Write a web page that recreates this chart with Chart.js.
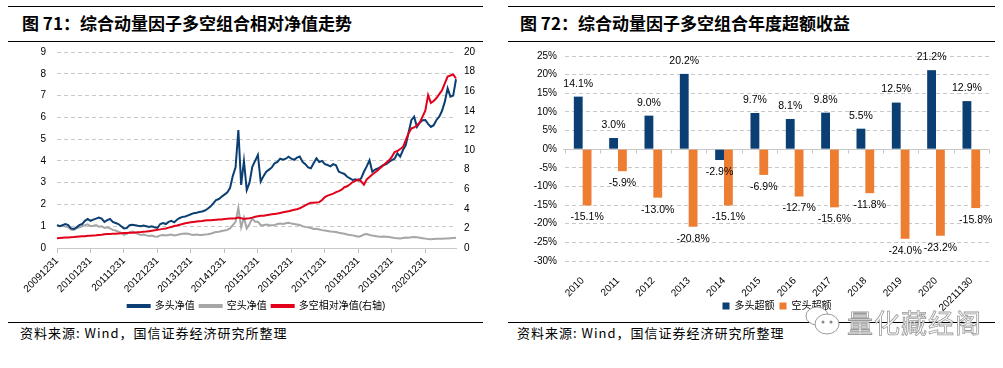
<!DOCTYPE html>
<html>
<head>
<meta charset="utf-8">
<script src="https://cdn.jsdelivr.net/npm/chart.js@4.4.0/dist/chart.umd.min.js"></script>
<style>
  body { margin: 0; background: #fff; width: 1003px; height: 368px; position: relative; overflow: hidden;
         font-family: "Noto Sans CJK SC", sans-serif; }
  .rule { position: absolute; height: 0; border-top: 1px solid #000; }
  .title { position: absolute; top: 12px; font-size: 17px; line-height: 22px; font-weight: bold; color: #000; white-space: nowrap; }
  .src { position: absolute; top: 325px; font-size: 13px; line-height: 16px; color: #000; white-space: nowrap; letter-spacing: 1px; }
  .box { position: absolute; }
  .wm { position: absolute; left: 803px; top: 302px; height: 38px; display: flex; align-items: center; }
  .wm span { font-size: 26px; color: #fff; -webkit-text-stroke: 0.8px #9a9a9a; letter-spacing: 1px; margin-left: 4px; }
</style>
</head>
<body>
<div class="rule" style="left:8px;width:475px;top:6px"></div>
<div class="rule" style="left:8px;width:475px;top:41px"></div>
<div class="rule" style="left:8px;width:475px;top:322px"></div>
<div class="title" style="left:22px">图 71：综合动量因子多空组合相对净值走势</div>
<div class="src" style="left:20px">资料来源: Wind，国信证券经济研究所整理</div>

<div class="rule" style="left:508px;width:487px;top:6px"></div>
<div class="rule" style="left:508px;width:487px;top:41px"></div>
<div class="rule" style="left:508px;width:487px;top:322px"></div>
<div class="title" style="left:520px">图 72：综合动量因子多空组合年度超额收益</div>
<div class="src" style="left:517px">资料来源: Wind，国信证券经济研究所整理</div>

<div class="box" style="left:0px;top:35px"><canvas id="c1" width="490" height="298"></canvas></div>
<div class="box" style="left:500px;top:42px"><canvas id="c2" width="503" height="304"></canvas></div>

<div class="wm">
  <svg width="40" height="36" viewBox="0 0 40 36">
    <ellipse cx="14" cy="13" rx="11" ry="9" fill="#fff" stroke="#9a9a9a" stroke-width="1"/>
    <ellipse cx="24" cy="21" rx="12" ry="10" fill="#fff" stroke="#9a9a9a" stroke-width="1"/>
    <circle cx="20" cy="19" r="1.5" fill="#888"/><circle cx="28" cy="19" r="1.5" fill="#888"/>
  </svg>
  <span>量化藏经阁</span>
</div>

<script>
// ---- chart 71: monthly net values, Dec 2009 .. Nov 2021 ----
const yearTickLabels = ['20091231','20101231','20111231','20121231','20131231','20141231',
  '20151231','20161231','20171231','20181231','20191231','20201231'];

// 多头净值 (left axis)
const longNav = [1.05,
  1.00,1.05,1.10,1.05,0.90,0.87,0.95,1.05,1.10,1.25,1.33,1.25,
  1.30,1.35,1.40,1.35,1.20,1.28,1.33,1.20,1.15,1.10,1.00,0.90,
  0.92,1.05,1.07,1.05,1.02,1.00,1.03,1.00,0.97,1.00,0.95,0.92,
  1.10,1.15,1.10,1.20,1.25,1.18,1.30,1.38,1.43,1.45,1.50,1.55,
  1.60,1.62,1.65,1.68,1.72,1.80,1.90,2.05,2.20,2.25,2.35,2.45,
  2.55,2.75,3.30,3.70,5.42,2.90,4.00,2.66,3.00,3.73,4.00,4.27,
  3.05,3.30,3.50,3.60,3.70,3.89,3.95,4.10,4.05,4.10,4.19,4.10,
  4.05,4.15,4.20,3.96,3.85,3.70,3.66,3.90,4.12,3.95,4.00,3.85,
  3.81,3.75,3.85,3.80,3.50,3.45,3.40,3.27,3.20,3.12,3.15,3.10,
  3.20,3.50,3.75,4.03,3.50,3.60,3.65,3.73,3.81,3.85,3.95,4.04,
  4.10,4.35,4.20,4.50,4.72,5.30,5.87,6.03,5.56,5.75,5.87,5.88,
  5.70,5.56,5.64,5.88,6.03,6.30,6.72,7.33,6.95,7.00,7.75];

// 空头净值 (left axis)
const shortNav = [1.05,
  1.00,1.02,0.98,0.95,0.85,0.83,0.90,0.95,1.00,1.05,1.09,1.00,
  1.02,1.05,0.98,1.00,0.92,0.95,0.90,0.83,0.80,0.75,0.70,0.60,
  0.65,0.72,0.75,0.70,0.65,0.60,0.62,0.58,0.55,0.57,0.53,0.52,
  0.58,0.60,0.57,0.60,0.62,0.58,0.60,0.63,0.65,0.67,0.65,0.62,
  0.60,0.62,0.60,0.60,0.62,0.63,0.65,0.70,0.73,0.75,0.78,0.80,
  0.83,0.90,1.05,1.20,1.85,0.95,1.40,0.90,1.10,1.36,1.20,1.20,
  1.06,1.05,1.08,1.06,1.05,1.06,1.10,1.12,1.10,1.14,1.16,1.12,
  1.10,1.08,1.06,1.00,0.97,0.95,0.92,0.87,0.88,0.85,0.82,0.80,
  0.78,0.76,0.75,0.73,0.70,0.68,0.65,0.62,0.60,0.58,0.55,0.52,
  0.55,0.62,0.64,0.60,0.57,0.55,0.53,0.52,0.53,0.52,0.50,0.48,
  0.46,0.45,0.44,0.46,0.48,0.47,0.49,0.50,0.49,0.47,0.45,0.43,
  0.41,0.40,0.41,0.42,0.42,0.43,0.44,0.44,0.45,0.46,0.47];

// 多空相对净值 (right axis)
const lsRel = [1.00,
  1.02,1.04,1.06,1.08,1.10,1.12,1.15,1.17,1.19,1.21,1.24,1.26,
  1.28,1.30,1.33,1.36,1.40,1.43,1.44,1.45,1.46,1.48,1.50,1.52,
  1.53,1.55,1.56,1.58,1.60,1.62,1.65,1.68,1.72,1.76,1.80,1.87,
  1.90,1.95,2.00,2.08,2.15,2.25,2.30,2.38,2.45,2.52,2.58,2.62,
  2.66,2.70,2.73,2.76,2.80,2.82,2.84,2.86,2.88,2.90,2.92,2.95,
  2.98,3.00,3.02,3.04,3.10,3.05,2.95,3.00,3.04,3.10,3.18,3.24,
  3.28,3.30,3.35,3.40,3.44,3.48,3.52,3.58,3.64,3.70,3.76,3.83,
  3.90,3.96,4.06,4.20,4.35,4.50,4.61,4.62,4.65,4.68,4.90,5.20,
  5.35,5.45,5.55,5.70,5.80,5.95,6.20,6.30,6.50,6.73,6.85,7.00,
  6.80,6.46,7.00,7.24,7.50,7.70,7.93,8.20,8.44,8.70,8.95,9.30,
  9.80,9.90,10.10,10.30,11.00,11.70,12.20,12.30,12.50,12.80,13.40,14.00,
  15.60,14.80,15.00,15.30,15.70,16.10,16.80,17.50,17.60,17.70,17.30];

// ---- chart 72: yearly excess returns (%) ----
const years = ['2010','2011','2012','2013','2014','2015','2016','2017','2018','2019','2020','20211130'];
const longExcess  = [14.1, 3.0, 9.0, 20.2, -2.9, 9.7, 8.1, 9.8, 5.5, 12.5, 21.2, 12.9];
const shortExcess = [-15.1, -5.9, -13.0, -20.8, -15.1, -6.9, -12.7, -15.6, -11.8, -24.0, -23.2, -15.8];

const BLUE = '#0b3f73', GRAY = '#a6a6a6', RED = '#e2001a', ORANGE = '#ed7d31', GRID = '#c8c8c8';
Chart.defaults.font.family = '"Liberation Sans", Arial, "Noto Sans CJK SC", sans-serif';
Chart.defaults.font.size = 10;
Chart.defaults.color = '#000';

// put the legend where the picture has it: centred on the plot, just under the labels
const legendPlace = {
  id: 'legendPlace',
  afterLayout(chart, args, opts) {
    const lg = chart.legend, h = lg.bottom - lg.top;
    lg.top = opts.top; lg.bottom = opts.top + h;
    lg.left = chart.chartArea.left; lg.right = chart.chartArea.right;
    lg.width = lg.right - lg.left;
  }
};

// one category per month, Dec 2009 first
const months = [];
for (let i = 0; i < longNav.length; i++) {
  const m = (11 + i) % 12 + 1, y = 2009 + Math.floor((11 + i) / 12);
  months.push(y + String(m).padStart(2, '0'));
}

new Chart(document.getElementById('c1'), {
  type: 'line',
  data: {
    labels: months,
    datasets: [
      { label: '多头净值', data: longNav, borderColor: BLUE, backgroundColor: BLUE, yAxisID: 'y', order: 2 },
      { label: '空头净值', data: shortNav, borderColor: GRAY, backgroundColor: GRAY, yAxisID: 'y', order: 3 },
      { label: '多空相对净值(右轴)', data: lsRel, borderColor: RED, backgroundColor: RED, yAxisID: 'y1', order: 1 }
    ]
  },
  plugins: [legendPlace],
  options: {
    responsive: false,
    animation: false,
    layout: { padding: 0 },
    elements: { point: { radius: 0 }, line: { borderWidth: 2, tension: 0 } },
    plugins: {
      tooltip: { enabled: false },
      legendPlace: { top: 261 },
      legend: {
        position: 'bottom',
        labels: { boxWidth: 22, boxHeight: 2, padding: 5, font: { size: 10 },
                  sort: (a, b) => a.datasetIndex - b.datasetIndex }
      }
    },
    scales: {
      x: {
        afterFit: s => { s.height = 60; },
        grid: { drawOnChartArea: false, tickLength: 5,
                tickColor: c => (c.index % 12 === 0 ? '#bfbfbf' : 'rgba(0,0,0,0)') },
        border: { color: GRID },
        ticks: { autoSkip: false, maxRotation: 45, minRotation: 45, padding: 2,
                 callback: (v, i) => (i % 12 === 0 ? yearTickLabels[i / 12] : '') }
      },
      y: {
        min: 0, max: 9,
        afterFit: s => { s.width = 57; },
        ticks: { stepSize: 1, padding: 11 },
        grid: { color: GRID, drawTicks: false },
        border: { display: false, dash: [4, 3] }
      },
      y1: {
        position: 'right', min: 0, max: 20,
        afterFit: s => { s.width = 34; },
        ticks: { stepSize: 2, padding: 8 },
        grid: { drawOnChartArea: false, drawTicks: false },
        border: { display: false }
      }
    }
  }
});

// solid zero line with small ticks + value labels on the bars
const zeroLine = {
  id: 'zeroLine',
  beforeDatasetsDraw(chart) {
    const { ctx, chartArea, scales } = chart;
    const y0 = Math.round(scales.y.getPixelForValue(0)) + 0.5;
    ctx.save();
    ctx.strokeStyle = GRID;
    ctx.lineWidth = 1;
    ctx.beginPath();
    ctx.moveTo(chartArea.left - 2, y0);
    ctx.lineTo(chartArea.right, y0);
    const n = years.length;
    for (let i = 0; i <= n; i++) {
      const x = i === 0 ? chartArea.left : i === n ? chartArea.right
        : (scales.x.getPixelForTick(i - 1) + scales.x.getPixelForTick(i)) / 2;
      ctx.moveTo(Math.round(x) + 0.5, y0);
      ctx.lineTo(Math.round(x) + 0.5, y0 + 4);
    }
    ctx.stroke();
    ctx.restore();
  }
};
const barLabels = {
  id: 'barLabels',
  afterDatasetsDraw(chart) {
    const ctx = chart.ctx;
    ctx.save();
    ctx.font = '10.5px "Liberation Sans", Arial, sans-serif';
    ctx.fillStyle = '#000';
    ctx.textAlign = 'center';
    ctx.textBaseline = 'middle';
    chart.data.datasets.forEach((ds, di) => {
      chart.getDatasetMeta(di).data.forEach((bar, i) => {
        const v = ds.data[i];
        ctx.fillText(v.toFixed(1) + '%', bar.x, v >= 0 ? bar.y - 13 : bar.y + 12);
      });
    });
    ctx.restore();
  }
};

new Chart(document.getElementById('c2'), {
  type: 'bar',
  data: {
    labels: years,
    datasets: [
      { label: '多头超额', data: longExcess, backgroundColor: BLUE },
      { label: '空头超额', data: shortExcess, backgroundColor: ORANGE }
    ]
  },
  plugins: [zeroLine, barLabels, legendPlace],
  options: {
    responsive: false,
    animation: false,
    layout: { padding: { top: 14, left: 0, right: 14, bottom: 0 } },
    datasets: { bar: { categoryPercentage: 0.5, barPercentage: 1.0 } },
    plugins: {
      tooltip: { enabled: false },
      legendPlace: { top: 254 },
      legend: {
        position: 'bottom',
        labels: { boxWidth: 7, boxHeight: 7, padding: 5, font: { size: 10 } }
      }
    },
    scales: {
      x: {
        afterFit: s => { s.height = 60; },
        grid: { display: false },
        border: { display: false },
        ticks: { autoSkip: false, maxRotation: 45, minRotation: 45, padding: 6 }
      },
      y: {
        min: -30, max: 25,
        afterFit: s => { s.width = 65; },
        ticks: { stepSize: 5, padding: 8, callback: v => v + '%' },
        grid: { color: GRID, drawTicks: false },
        border: { display: false, dash: [4, 3] }
      }
    }
  }
});
</script>
</body>
</html>
